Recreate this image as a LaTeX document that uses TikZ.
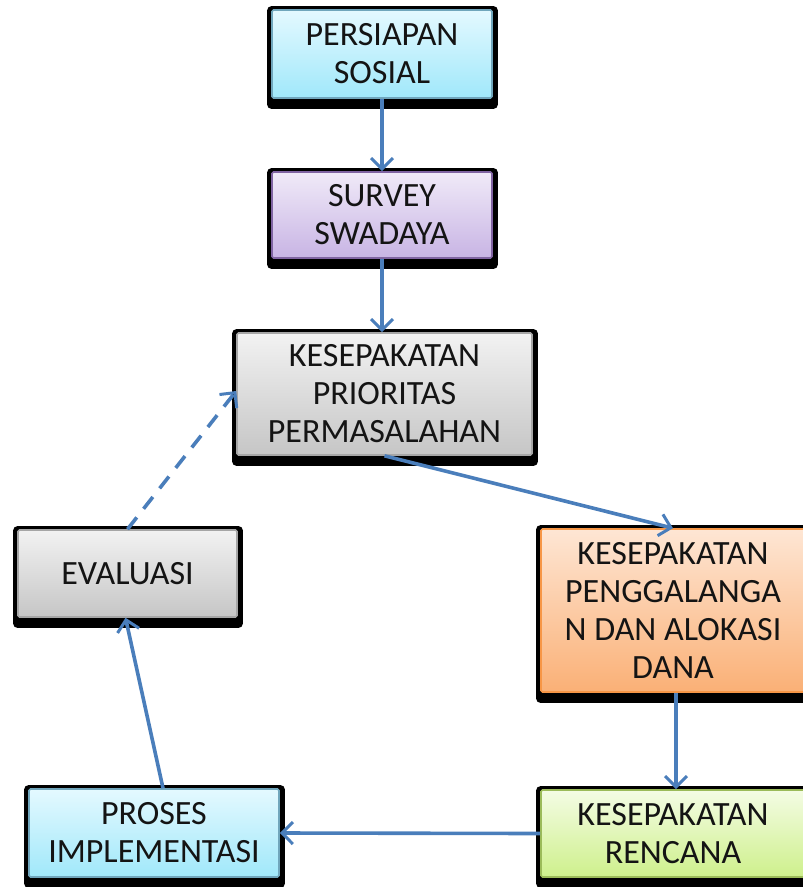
\documentclass[tikz,border=0pt]{standalone}
\usepackage{fontspec}
\setmainfont{Carlito}
\usetikzlibrary{arrows.meta,backgrounds}
\definecolor{arrowblue}{HTML}{4A7EBB}
\definecolor{txt}{HTML}{141414}
\tikzset{
  box/.style={draw, line width=1.6pt, rounded corners=1.5pt, inner sep=0pt, align=center,
    text=txt, font=\fontsize{34}{38}\selectfont},
  cyanbox/.style={box, draw=cyan!60!black!70, top color={rgb,255:red,228;green,249;blue,255}, bottom color={rgb,255:red,160;green,232;blue,250}},
  purplebox/.style={box, draw={rgb,255:red,128;green,100;blue,162}, top color={rgb,255:red,240;green,234;blue,248}, bottom color={rgb,255:red,200;green,180;blue,228}},
  graybox/.style={box, draw=gray!70, top color=gray!10, bottom color=gray!45},
  orangebox/.style={box, draw={rgb,255:red,247;green,150;blue,70}, top color={rgb,255:red,254;green,230;blue,212}, bottom color={rgb,255:red,250;green,176;blue,118}},
  greenbox/.style={box, draw={rgb,255:red,155;green,187;blue,89}, top color={rgb,255:red,244;green,252;blue,228}, bottom color={rgb,255:red,206;green,240;blue,140}},
  flow/.style={draw=arrowblue, line width=3.6pt, -{Straight Barb[length=11pt,width=22pt,line width=3pt]}},
  dashflow/.style={flow, dash pattern=on 15pt off 11pt},
  shadowbox/.style={fill=black, rounded corners=4pt}
}
\begin{document}
\begin{tikzpicture}[x=1pt,y=-1pt]
\path[use as bounding box] (0,0) rectangle (803,887);
\clip (0,0) rectangle (803,887);

\node[cyanbox, minimum width=220pt, minimum height=88pt] (ps) at (382,54) {PERSIAPAN\\SOSIAL};
\node[purplebox, minimum width=220pt, minimum height=86pt] (sv) at (382,215) {SURVEY\\SWADAYA};
\node[graybox, minimum width=295pt, minimum height=122pt] (kp) at (384.5,394) {KESEPAKATAN\\PRIORITAS\\PERMASALAHAN};
\node[graybox, minimum width=219pt, minimum height=87pt] (ev) at (127.5,573.5) {EVALUASI};
\node[orangebox, minimum width=264pt, minimum height=163pt] (pg) at (673,610.5) {KESEPAKATAN\\PENGGALANGA\\N DAN ALOKASI\\DANA};
\node[greenbox, minimum width=264pt, minimum height=87pt] (rc) at (673,833.5) {KESEPAKATAN\\RENCANA};
\node[cyanbox, minimum width=250pt, minimum height=88pt] (pi) at (154,833) {PROSES\\IMPLEMENTASI};

\begin{scope}[on background layer]
  \fill[white] (0,0) rectangle (803,887);
  \foreach \n in {ps,sv,kp,ev,pg,rc,pi}{
    \fill[shadowbox] ([shift={(-4,-3)}]\n.north west) rectangle ([shift={(5,10)}]\n.south east);
  }
\end{scope}

\draw[flow] (ps.south) -- (sv.north);
\draw[flow] (sv.south) -- (sv.south |- kp.north);
\draw[flow] (kp.south) -- (pg.north);
\draw[flow] ([xshift=3pt]pg.south) -- ([xshift=3pt]rc.north);
\draw[flow] (rc.west) -- (pi.east);
\draw[flow] ([xshift=9pt]pi.north) -- ([xshift=-2pt]ev.south);
\draw[dashflow] (ev.north) -- ([yshift=3pt]kp.west);
\end{tikzpicture}
\end{document}
